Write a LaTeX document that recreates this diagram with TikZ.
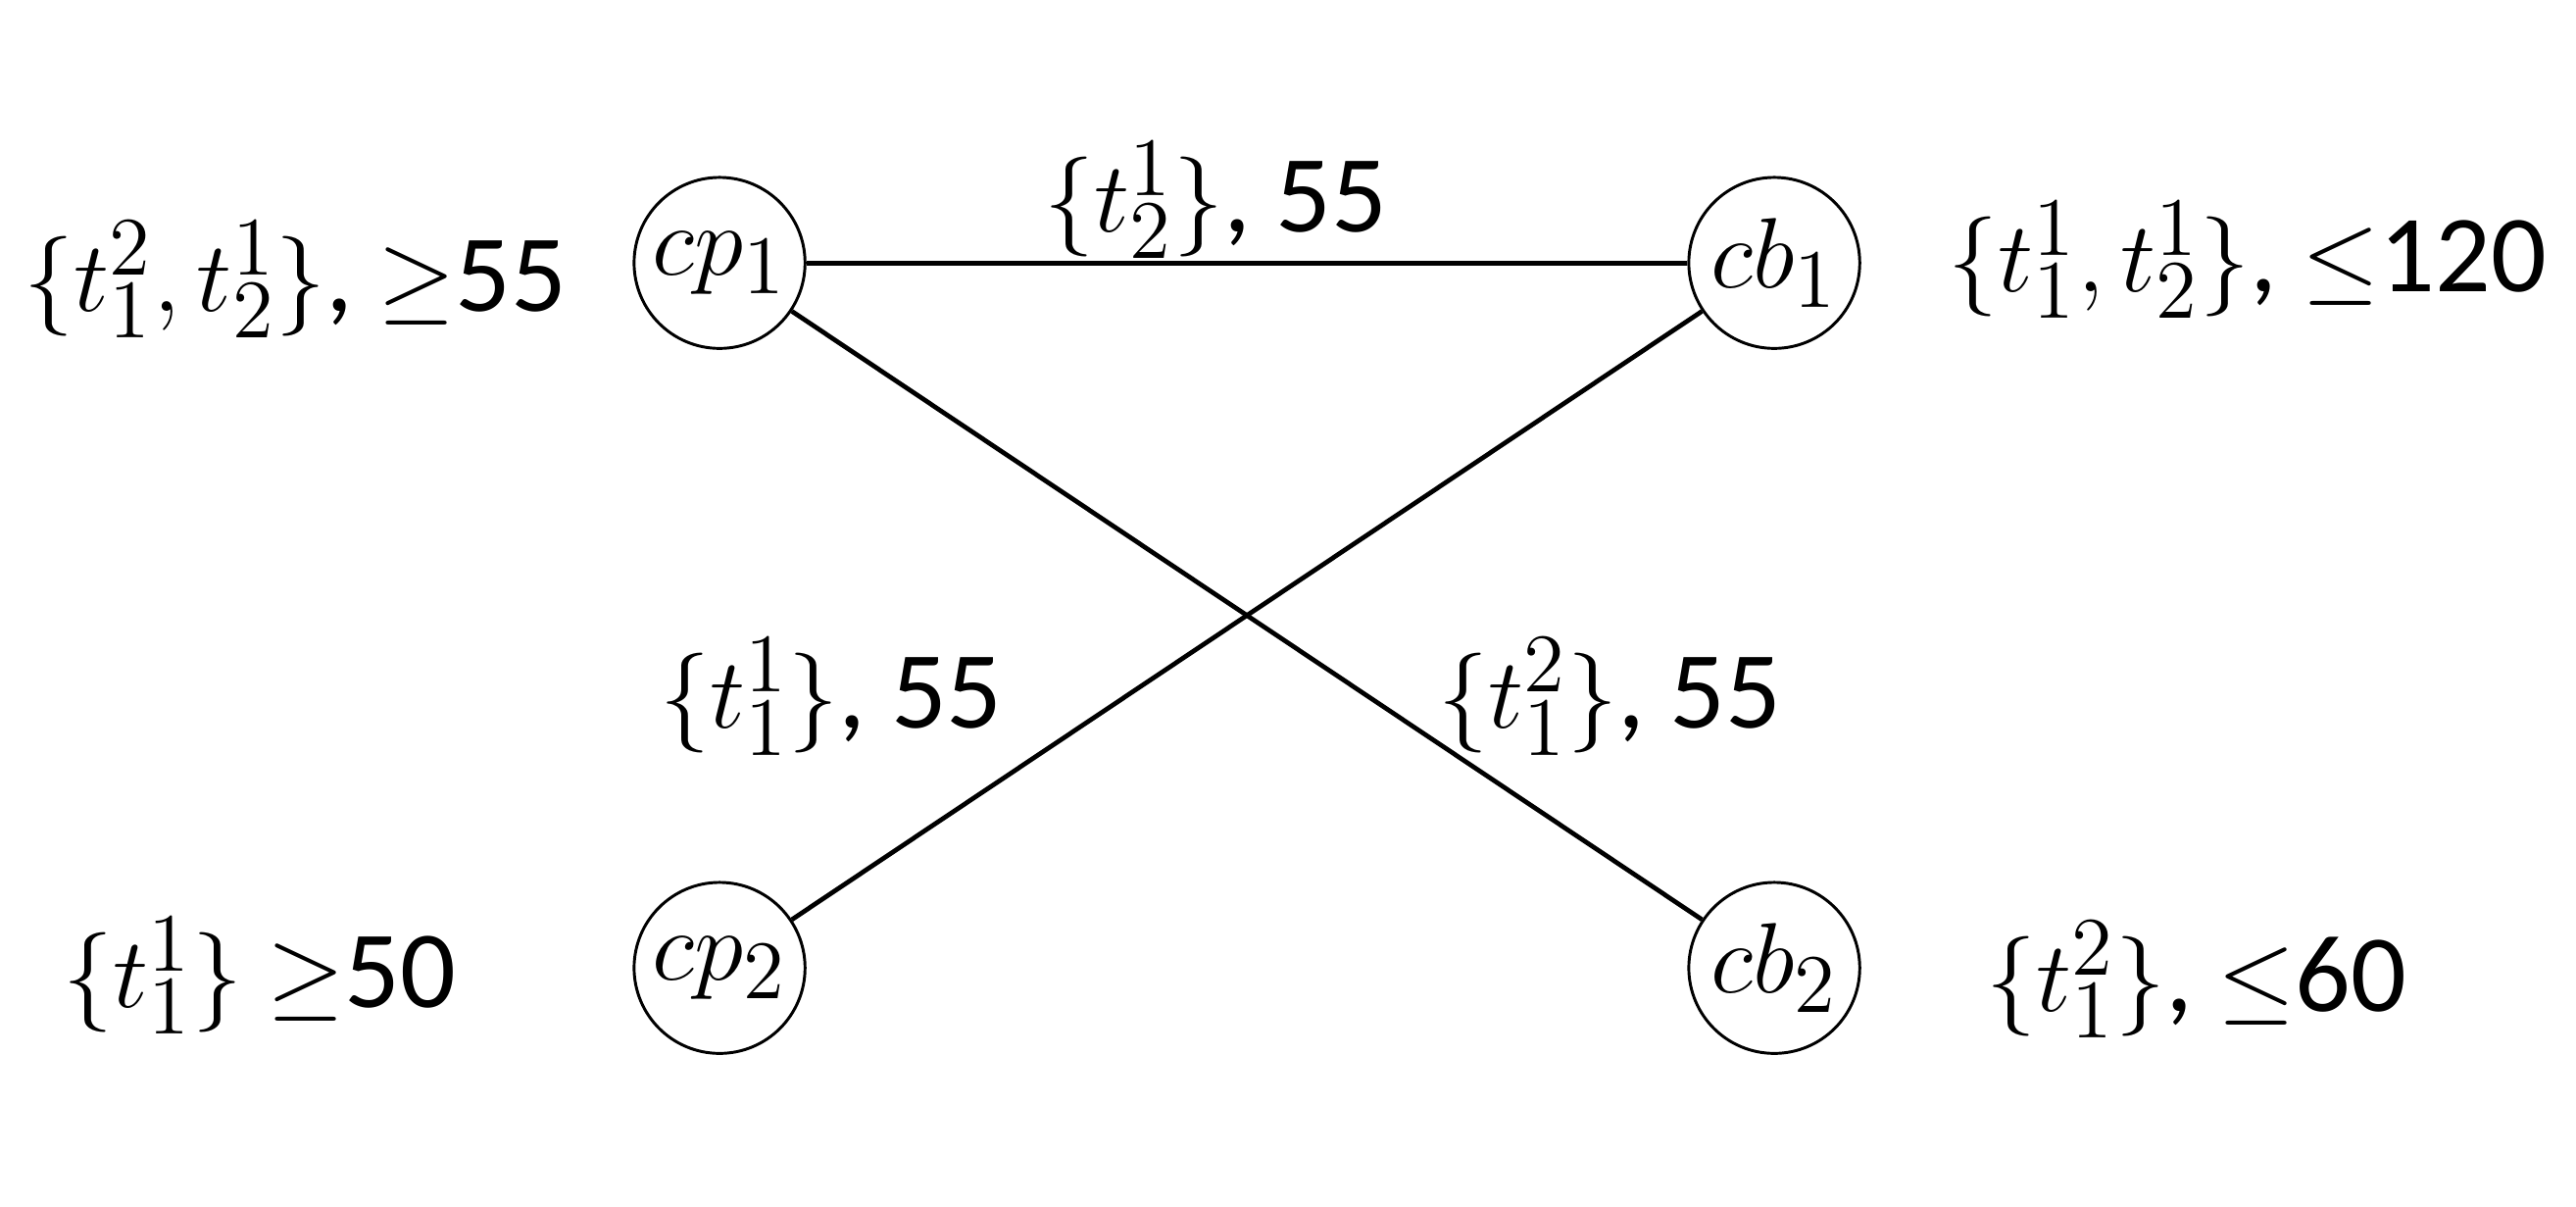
\documentclass[tikz,border=0pt]{standalone}
\usepackage{fontspec}
\setmainfont{Carlito}
\begin{document}
\begin{tikzpicture}[x=0.01cm,y=-0.01cm,
  vtx/.style={circle,draw,line width=0.5pt,minimum size=1.04cm,inner sep=0pt,font=\fontsize{19}{22}\selectfont},
  lbl/.style={font=\fontsize{19}{22}\selectfont,inner sep=0pt},
  edge/.style={line width=0.8pt}]
\useasboundingbox (0,0) rectangle (1568,734);
\node[vtx] (cp1) at (438,160) {$cp_1$};
\node[vtx] (cb1) at (1080,160) {$cb_1$};
\node[vtx] (cp2) at (438,589) {$cp_2$};
\node[vtx] (cb2) at (1080,589) {$cb_2$};
\draw[edge] (cp1) -- (cb1);
\draw[edge] (cp1) -- (cb2);
\draw[edge] (cb1) -- (cp2);
\node[lbl] (l1) at (740,122) {$\{t_2^1\}$, 55};
\node[lbl] (l2) at (180,170) {$\{t_1^2, t_2^1\}$, $\geq$55};
\node[lbl] (l3) at (1368,158) {$\{t_1^1, t_2^1\}$, $\leq$120};
\node[lbl] (l4) at (506,424) {$\{t_1^1\}$, 55};
\node[lbl] (l5) at (980,424) {$\{t_1^2\}$, 55};
\node[lbl] (l6) at (158,594) {$\{t_1^1\}$ $\geq$50};
\node[lbl] (l7) at (1337,596) {$\{t_1^2\}$, $\leq$60};
\end{tikzpicture}
\end{document}
